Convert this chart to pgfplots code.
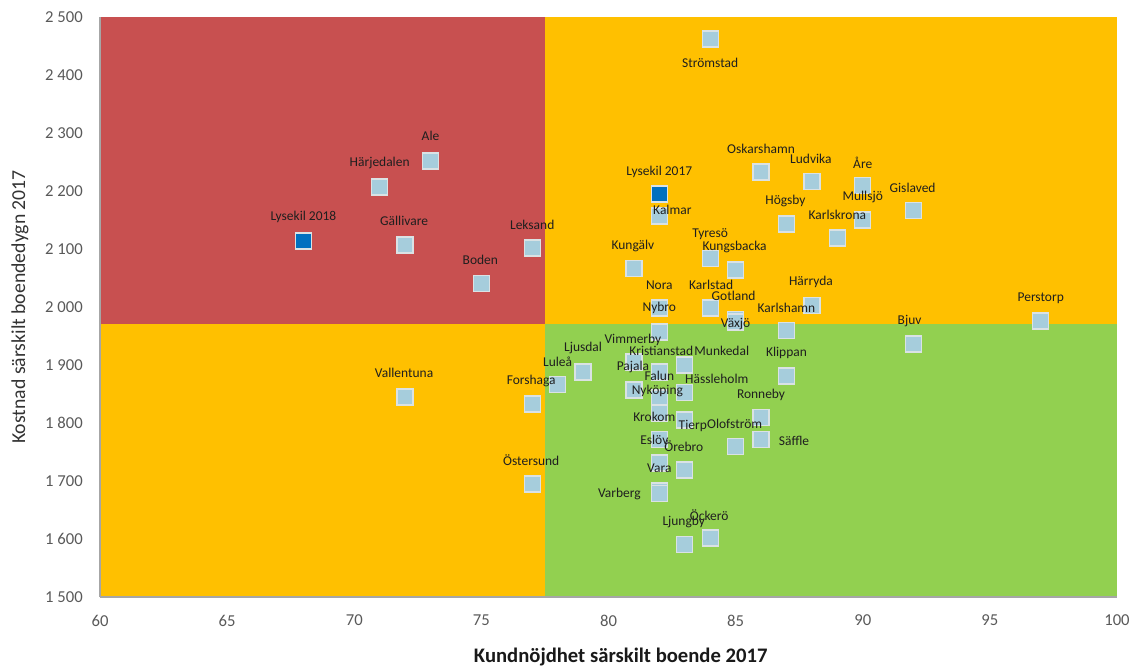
\documentclass[border=0pt]{standalone}
\usepackage{pgfplots}
\pgfplotsset{compat=1.18}
\usepackage{pgfplotstable}
\usepackage{fontspec}
\setmainfont{Carlito}
\definecolor{qred}{RGB}{200,80,80}
\definecolor{qorange}{RGB}{255,192,0}
\definecolor{qgreen}{RGB}{146,208,80}
\definecolor{mlight}{RGB}{166,205,220}
\definecolor{mborder}{RGB}{218,226,228}
\definecolor{mdark}{RGB}{0,112,192}
\definecolor{ticktext}{RGB}{89,89,89}
\definecolor{axline}{RGB}{166,166,166}

% x y : data;  dx dy : label offset in reference pixels (dy up-positive)
\pgfplotstableread{
x y dx dy label
71 2207 0 24 Härjedalen
73 2252 0 25 Ale
72 2107 -1 24 Gällivare
75 2040 -1 24 Boden
77 2102 0 23 Leksand
84 2462 0 -24 Strömstad
82 2157 13 6 Kalmar
86 2233 0 23 Oskarshamn
88 2216 -1 23 Ludvika
90 2209 0 23 Åre
92 2166 -1 23 Gislaved
90 2150 0 23 Mullsjö
87 2143 -1 23 Högsby
89 2119 0 23 Karlskrona
81 2066 -1 23 Kungälv
84 2084 0 24 Tyresö
85 2064 -1 23 Kungsbacka
82 1998 0 23 Nora
84 1998 1 23 Karlstad
85 1979 -2 23 Gotland
85 1974 0 -2 Växjö
82 1957 0 24 Nybro
87 1959 0 23 Karlshamn
88 2003 -1 23 Härryda
97 1976 0 23 Perstorp
92 1936 -4 23 Bjuv
72 1845 -1 24 Vallentuna
77 1833 -1 23 Forshaga
77 1695 -1 24 Östersund
78 1866 0 23 Luleå
79 1888 0 24 Ljusdal
81 1905 -1 22 Vimmerby
82 1888 2 21 Kristianstad
83 1900 37 14 Munkedal
87 1881 0 23 Klippan
81 1857 -1 23 Pajala
82 1843 0 22 Falun
83 1853 32 13 Hässleholm
82 1817 -2 22 Nyköping
86 1809 0 23 Ronneby
82 1771 -5 23 Krokom
83 1805 8 -6 Tierp
85 1759 -1 23 Olofström
86 1771 33 -1 Säffle
82 1731 -5 23 Eslöv
83 1719 -1 24 Örebro
82 1683 0 23 Vara
82 1679 -40 -1 Varberg
83 1591 -1 22 Ljungby
84 1602 -1 23 Öckerö
}\munis

\pgfplotstableread{
x y dx dy label
68 2114 0 24 {Lysekil 2018}
82 2195 0 22 {Lysekil 2017}
}\lysekil

\pgfplotsset{
  mk/.style={only marks, mark=square*, mark size=6pt},
  lbl/.style={only marks, mark=none, draw=none,
    point meta=explicit symbolic,
    nodes near coords,
    every node near coord/.append style={anchor=center, inner sep=0pt,
      font=\fontsize{10.1}{12}\selectfont, text=black!88},
  },
}

\begin{document}
\begin{tikzpicture}
\begin{axis}[
  scale only axis,
  width=762.75pt, height=435pt,
  xmin=60, xmax=100, ymin=1500, ymax=2500,
  enlargelimits=false,
  axis on top,
  axis x line*=bottom, axis y line*=left,
  axis line style={draw=axline, line width=0.8pt, -},
  major tick length=0pt,
  xtick={60,65,...,100},
  xticklabels={60,65,70,75,80,85,90,95,100},
  ytick={1500,1600,...,2500},
  yticklabels={{1 500},{1 600},{1 700},{1 800},{1 900},{2 000},{2 100},{2 200},{2 300},{2 400},{2 500}},
  xticklabel style={anchor=center, yshift=-17.6pt, font=\fontsize{12.5}{14}\selectfont, text=ticktext},
  yticklabel style={anchor=east, inner sep=0pt, xshift=-12.75pt, font=\fontsize{12.5}{14}\selectfont, text=ticktext},
  xlabel={Kundnöjdhet särskilt boende 2017},
  ylabel={Kostnad särskilt boendedygn 2017},
  every axis x label/.style={at={(axis description cs:0.512,-0.1034)}, anchor=center, font=\bfseries\fontsize{15.5}{18}\selectfont, text=black!90},
  every axis y label/.style={at={(axis description cs:-0.0787,0.5)}, rotate=90, anchor=center, font=\fontsize{14.8}{17}\selectfont, text=black!80},
  clip=false,
]
\addplot[draw=none, fill=qred, forget plot] coordinates {(60,1970) (77.5,1970) (77.5,2500) (60,2500)} --cycle;
\addplot[draw=none, fill=qorange, forget plot] coordinates {(77.5,1970) (100,1970) (100,2500) (77.5,2500)} --cycle;
\addplot[draw=none, fill=qorange, forget plot] coordinates {(60,1500) (77.5,1500) (77.5,1970) (60,1970)} --cycle;
\addplot[draw=none, fill=qgreen, forget plot] coordinates {(77.5,1500) (100,1500) (100,1970) (77.5,1970)} --cycle;

\addplot[mk, mark options={fill=mlight, draw=mborder, line width=1pt}] table[x=x, y=y] {\munis};
\addplot[mk, mark options={fill=mdark, draw=mborder, line width=1pt}] table[x=x, y=y] {\lysekil};

% labels: 1 unit x = 25.425 px, 100 units y = 58 px
\addplot[lbl] table[x expr=\thisrow{x}+\thisrow{dx}/25.425, y expr=\thisrow{y}+\thisrow{dy}/0.58, meta=label] {\munis};
\addplot[lbl] table[x expr=\thisrow{x}+\thisrow{dx}/25.425, y expr=\thisrow{y}+\thisrow{dy}/0.58, meta=label] {\lysekil};

\coordinate (bbsw) at (rel axis cs:0,0);
\end{axis}
\path (bbsw) ++(-75pt,-53.25pt) rectangle ++(851.25pt,501pt);
\end{tikzpicture}
\end{document}
